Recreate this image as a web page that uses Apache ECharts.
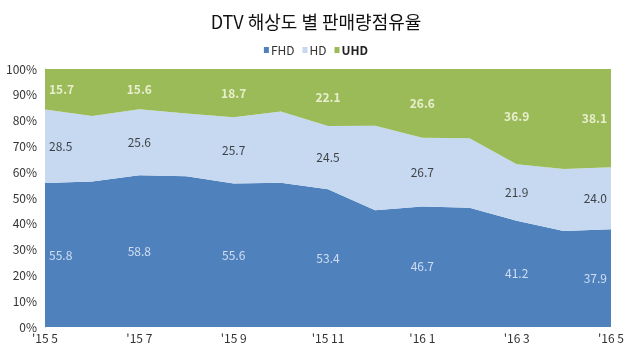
<!DOCTYPE html>
<html>
<head>
<meta charset="utf-8">
<script src="https://cdn.jsdelivr.net/npm/echarts@6/dist/echarts.min.js"></script>
<style>
  html, body { margin: 0; padding: 0; background: #fff; }
  #chart { width: 632px; height: 350px; }
</style>
</head>
<body>
<div id="chart"></div>
<script>
// Monthly categories, May 2015 to May 2016
const months = ["'15 5", "'15 6", "'15 7", "'15 8", "'15 9", "'15 10", "'15 11",
                "'15 12", "'16 1", "'16 2", "'16 3", "'16 4", "'16 5"];

// Share of sales by resolution (%)
const fhd = [55.8, 56.4, 58.8, 58.4, 55.6, 55.9, 53.4, 45.3, 46.7, 46.2, 41.2, 37.2, 37.9];
const hd  = [28.5, 25.4, 25.6, 24.4, 25.7, 27.6, 24.5, 32.7, 26.7, 27.0, 21.9, 24.0, 24.0];
const uhd = [15.7, 18.2, 15.6, 17.2, 18.7, 16.5, 22.1, 22.0, 26.6, 26.8, 36.9, 38.8, 38.1];

const yTicks = [0, 10, 20, 30, 40, 50, 60, 70, 80, 90, 100];

const FONT = "'Noto Sans CJK KR', 'Noto Sans', sans-serif";
const colors = { FHD: '#4F81BD', HD: '#C6D9F0', UHD: '#9BBB59' };

// Value labels are shown on every other month, centred inside each band
function bandLabels(values, bases) {
  const last = values.length - 1;
  const out = [];
  values.forEach((v, i) => {
    if (i % 2 !== 0) return;
    const base = bases.reduce((s, arr) => s + arr[i], 0);
    out.push({
      value: [i, base + v / 2, v],
      label: { align: i === 0 ? 'left' : (i === last ? 'right' : 'center'),
               offset: i === 0 ? [4, 0] : (i === last ? [-4, 0] : [0, 0]) }
    });
  });
  return out;
}

function labelSeries(name, values, bases, style) {
  return {
    name: name,
    type: 'scatter',
    symbolSize: 0,
    silent: true,
    z: 5,
    data: bandLabels(values, bases),
    label: Object.assign({
      show: true,
      position: 'inside',
      fontFamily: FONT,
      fontSize: 12,
      formatter: p => p.value[2].toFixed(1)
    }, style)
  };
}

function areaSeries(name, values) {
  return {
    name: name,
    type: 'line',
    stack: 'share',
    data: values,
    symbol: 'none',
    lineStyle: { width: 0 },
    itemStyle: { color: colors[name] },
    areaStyle: { color: colors[name], opacity: 1 }
  };
}

const chart = echarts.init(document.getElementById('chart'), null, { renderer: 'canvas' });
chart.setOption({
  animation: false,
  title: {
    text: 'DTV 해상도 별 판매량점유율',
    left: 'center',
    top: 8,
    textStyle: { fontFamily: FONT, fontSize: 18, fontWeight: 'normal', color: '#111' }
  },
  legend: {
    top: 39,
    left: 'center',
    itemWidth: 5,
    itemHeight: 6,
    itemGap: 8,
    icon: 'rect',
    textStyle: { fontFamily: FONT, fontSize: 12, color: '#333', padding: [0, 0, 0, -3] },
    data: [
      { name: 'FHD' },
      { name: 'HD' },
      { name: 'UHD', textStyle: { fontWeight: 'bold', color: '#222' } }
    ]
  },
  grid: { left: 45, right: 21, top: 69, bottom: 23, containLabel: false },
  xAxis: {
    type: 'category',
    boundaryGap: false,
    data: months,
    axisLine: { show: false },
    axisTick: { show: false },
    axisLabel: { interval: 1, margin: 5, fontFamily: FONT, fontSize: 12, color: '#333' }
  },
  yAxis: {
    type: 'value',
    min: yTicks[0],
    max: yTicks[yTicks.length - 1],
    interval: yTicks[1] - yTicks[0],
    axisLine: { show: true, lineStyle: { color: '#A6A6A6' } },
    axisTick: { show: false },
    splitLine: { show: false },
    axisLabel: { margin: 8, fontFamily: FONT, fontSize: 12, color: '#333', formatter: '{value}%' }
  },
  series: [
    areaSeries('FHD', fhd),
    areaSeries('HD', hd),
    areaSeries('UHD', uhd),
    labelSeries('FHD값', fhd, [], { color: '#EEF4FF' }),
    labelSeries('HD값', hd, [fhd], { color: '#1A1A1A' }),
    labelSeries('UHD값', uhd, [fhd, hd], { color: '#FBFBEA', fontWeight: 'bold' })
  ]
});
</script>
</body>
</html>
